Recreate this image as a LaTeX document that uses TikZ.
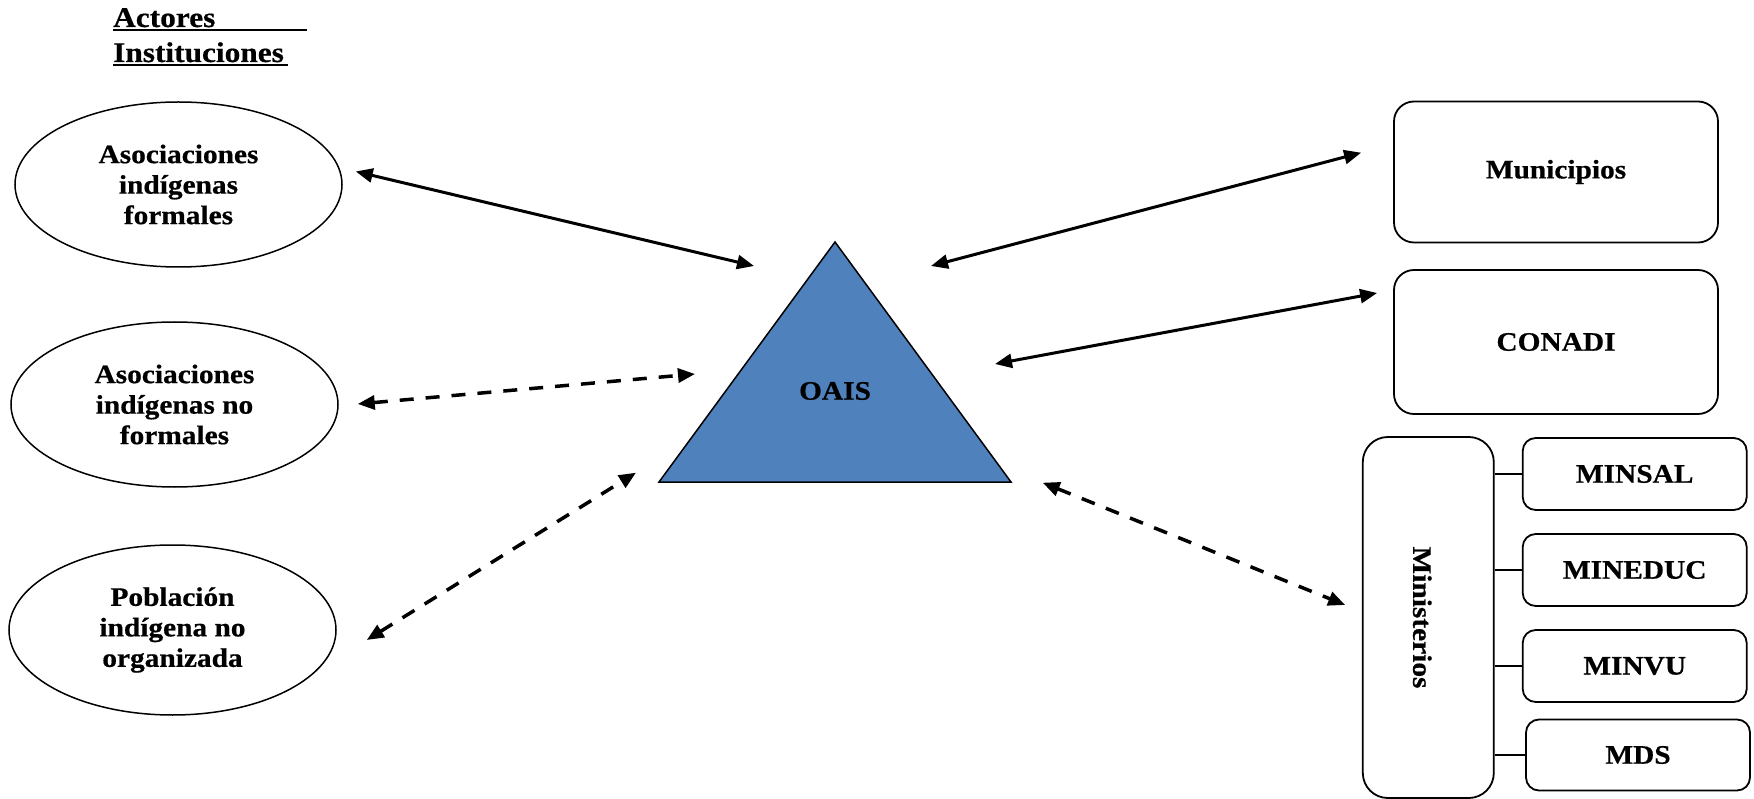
\documentclass[tikz,border=0pt]{standalone}
\usepackage{fontspec}
\setmainfont{Liberation Serif}[FakeStretch=1.1, BoldFeatures={FakeBold=0.6}]
\usetikzlibrary{arrows.meta,shapes.geometric,calc}
\definecolor{oaisblue}{HTML}{4F81BD}
\begin{document}
\begin{tikzpicture}[x=1pt,y=-1pt,
  lbl/.style={font=\bfseries\fontsize{26.7}{30.5}\selectfont, align=center},
  ttl/.style={font=\bfseries\fontsize{28.5}{35}\selectfont, inner sep=0pt, anchor=base west},
  actor/.style={lbl, draw, ellipse, line width=1.5pt, minimum width=327pt, minimum height=165pt, inner sep=0pt},
  inst/.style={lbl, draw, rounded corners=20pt, line width=1.8pt, minimum width=324pt, minimum height=141pt, inner sep=0pt},
  ministry/.style={lbl, draw, rounded corners=13pt, line width=1.8pt, minimum width=224pt, minimum height=72pt, inner sep=0pt},
  link/.style={line width=3pt, {Triangle[length=17pt,width=14pt]}-{Triangle[length=17pt,width=14pt]}},
  dlink/.style={link, line width=3.5pt, dash pattern=on 14pt off 12pt},
  branch/.style={line width=1.8pt}
]
\useasboundingbox (0,0) rectangle (1754,799);

% heading
\node[ttl] (t1) at (113,27) {Actores};
\node[ttl] (t2) at (113,62) {Instituciones};
\draw[line width=2pt] ($(t1.base west)+(0,3)$) -- ++(194,0);
\draw[line width=2pt] ($(t2.base west)+(0,3)$) -- ++(175,0);

% actors
\node[actor] (e1) at (178.5,184.5) {Asociaciones\\ indígenas\\ formales};
\node[actor] (e2) at (174.5,404.5) {Asociaciones\\ indígenas no\\ formales};
\node[actor, minimum height=170pt] (e3) at (172.5,630) {Población\\ indígena no\\ organizada};

% OAIS triangle
\coordinate (apex) at (835,242);
\coordinate (bl) at (659,482);
\coordinate (br) at (1011,482);
\filldraw[fill=oaisblue, draw=black, line width=1.5pt, line join=miter] (apex) -- (br) -- (bl) -- cycle;
\node[lbl] (oais) at (835,391) {OAIS};

% institutions
\node[inst] (mun) at (1556,172) {Municipios};
\node[inst, minimum height=144pt] (conadi) at (1556,342) {CONADI};
\node[lbl, draw, rounded corners=25pt, line width=1.8pt, minimum width=131pt, minimum height=361pt, inner sep=0pt] (min) at (1428.3,617.5) {};
\node[lbl, rotate=-90] (mintext) at ($(min.center)+(-6,0)$) {Ministerios};
\node[ministry] (minsal) at (1634.7,474) {MINSAL};
\node[ministry] (mineduc) at (1634.7,570) {MINEDUC};
\node[ministry] (minvu) at (1634.7,666) {MINVU};
\node[ministry, minimum height=71pt] (mds) at (1638,755) {MDS};

\foreach \m in {minsal,mineduc,minvu,mds}
  \draw[branch] (\m.west -| min.east) -- (\m.west);

% relations
\draw[link] ($(e1.east)+(13,-13)$) -- ($(apex)+(-81,24)$);
\draw[link] ($(mun.west)+(-32,-19.3)$) -- ($(apex)+(96,24)$);
\draw[link] ($(conadi.west)+(-16,-49)$) -- ($(apex)+(160,122)$);
\draw[dlink] ($(e2.east)+(19,-0.5)$) -- ($(bl)+(36,-108)$);
\draw[dlink] ($(e3.east)+(30,10)$) -- ($(bl)+(-23,-9.3)$);
\draw[dlink] ($(br)+(31.7,0.7)$) -- ($(min.west)+(-16.7,-12.5)$);
\end{tikzpicture}
\end{document}
